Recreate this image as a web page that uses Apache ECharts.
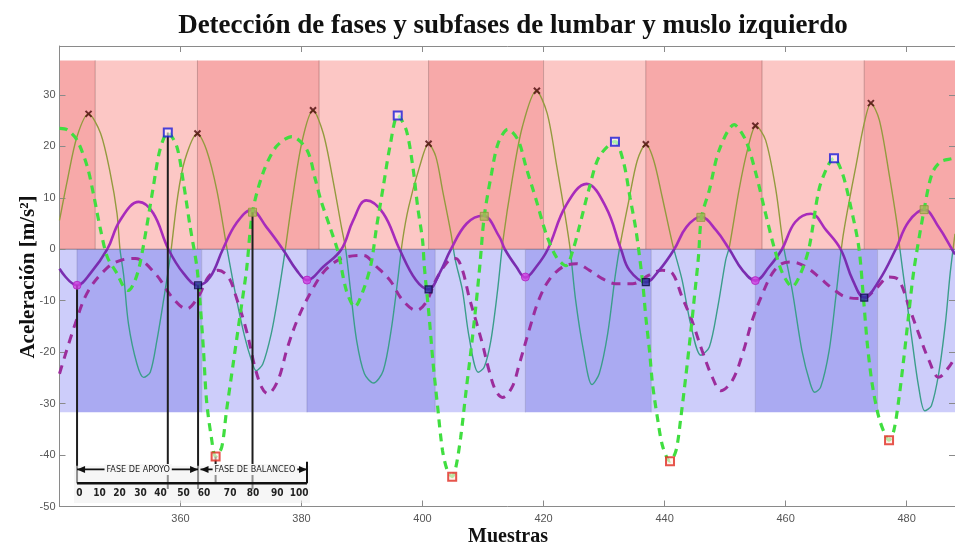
<!DOCTYPE html>
<html><head><meta charset="utf-8">
<script src="https://cdn.jsdelivr.net/npm/echarts/dist/echarts.min.js"></script>
<style>html,body{margin:0;padding:0;background:#fff}#c{width:955px;height:547px}</style>
</head><body><div id="c"></div>
<script>
// ---------- data ----------
const titleText = 'Detección de fases y subfases de lumbar y muslo izquierdo';
const xLabel = 'Muestras';
const yLabel = 'Aceleración [m/s²]';

// thin solid line (muslo)
const thinX = [340,341.3,342.9,344.8,346.8,348.4,349.5,350.0,350.6,351.4,352.8,353.9,355.0,356.1,357.2,358.3,359.5,360.7,362.8,364.3,366.0,367.7,369.3,370.6,371.7,372.5,373.6,375.0,376.1,377.2,378.4,380.1,381.9,383.6,385.2,386.6,387.3,388.1,389.1,390.4,391.9,393.5,394.8,395.9,396.7,397.7,399.5,401.0,402.2,403.3,404.7,405.4,406.6,407.7,409.2,410.2,411.3,412.4,413.3,414.8,416.5,418.8,420.6,422.2,423.6,424.4,425.3,426.6,428.0,429.2,430.6,431.9,432.8,434.1,435.5,436.9,438.2,439.6,441.3,442.9,444.3,446.0,447.4,448.8,450.1,450.7,452.3,453.7,455.1,456.7,458.4,459.6,461.1,462.7,464.1,464.8,465.8,467.2,468.3,469.4,470.3,471.6,473.0,474.1,475.5,477.1,478.5,478.9,479.8,480.9,482.0,483.0,484.1,485.3,486.4,487.2,488];
const thinY = [5.6,13.4,21.9,26.3,22.5,14.7,7,0,-5,-14.5,-22.3,-24.9,-23.9,-17.7,-9.9,-1.5,10,17.3,22.5,19.3,11.5,0,-10,-17,-21.5,-23.6,-22.3,-16.4,-9.3,-1,9,21,27.0,22.5,13.4,4.3,0,-8,-17.7,-24.2,-26.0,-23.6,-15.8,-6.0,1.75,8.2,16.0,20.5,18.0,11.5,3.1,-2,-8.0,-17.1,-23.9,-22.9,-17.7,-8.0,1.75,13.4,23.8,30.8,26.4,16.0,6.3,0,-9.9,-19.7,-26.3,-24.2,-16.4,-4.7,1.75,9.5,17.3,20.4,17.3,10.2,1.1,-6,-14.5,-20.6,-19.0,-11.2,-2.1,0.4,11.5,19.3,24.0,21.2,11.5,1.0,-8,-19.7,-26.2,-27.8,-26.8,-19.7,-9.3,1.75,8,16.0,24.5,28.4,25.1,14.7,4.3,0,-8,-17.7,-26.8,-31.4,-30.4,-24.2,-14.5,-4.7,3];

// dashed bright green line
const greenX = [340.0,341.3,342.9,344.6,345.7,346.8,347.9,349.5,350.6,351.4,352.5,353.3,354.4,355.5,356.6,357.9,359.4,360.5,361.6,362.7,363.2,363.8,364.3,365.1,365.8,366.8,367.6,368.7,369.8,370.9,371.9,373.6,375.8,378.4,380.9,382.3,383.2,384.7,386.1,387.4,388.8,390.2,391.5,392.4,393.5,394.6,395.9,397.3,398.4,399.2,400.0,400.3,401.1,401.7,402.5,403.3,404.1,404.9,405.5,406.3,407.2,408.0,408.8,409.5,410.2,411.4,412.5,414.1,415.8,417.1,418.8,420.4,422.1,423.7,424.9,425.9,427.6,429.2,431.8,433.2,434.3,435.3,436.4,436.9,437.5,438.0,438.8,439.7,440.9,441.9,442.7,443.5,444.3,445.0,445.6,446.1,447.4,449.0,451.5,453.4,455.1,456.7,458.1,459.5,461.1,462.5,463.9,465.5,466.9,468.0,469.4,470.8,472.1,472.9,473.5,474.3,475.4,476.5,477.1,477.9,478.7,479.5,480.3,481.2,482.9,484.2,485.6,487.5,488];
const greenY = [23.5,23.2,21.2,16.0,10.2,3.7,-1.5,-4.7,-7.3,-8.0,-6.0,-2.8,4.3,12.1,19.3,22.7,19.9,12.8,4.3,-3.4,-9.9,-19.7,-29.4,-36.6,-40.3,-38.5,-31.4,-22.3,-13.2,-4.1,7.2,14.7,19.9,21.9,19.3,13.5,9.5,4.3,-0.8,-8.0,-11.2,-8.0,-2.8,4.3,12.1,19.9,26.0,23.2,16.0,8.2,1.75,-3.4,-13.2,-21.6,-30.7,-39.1,-43.0,-44.2,-42.4,-36.6,-27.5,-19.7,-11.2,-2.8,6.4,14.7,20.6,23.3,21.2,16.0,9.5,3.1,-1.5,-3.2,0,4.3,12.1,18.0,20.9,17,10,3.5,-6.7,-13.2,-19.6,-26.1,-32.6,-38.4,-41.2,-39.1,-32.6,-24.8,-16.4,-8.5,-1.5,6.2,11.5,19.2,24.2,21.2,14.7,6.9,0.4,-4.7,-7.3,-4.7,0.4,11.5,16.0,17.7,14.7,8.1,0.4,-9.9,-18.3,-26.1,-32.6,-36.2,-37.1,-35.2,-29.3,-21.6,-13.2,-4.1,7.7,14.7,17.0,17.6,17.7];

// solid purple line (lumbar)
const purpleX = [340.0,342.9,345.1,347.9,350.0,353.1,355.5,358.0,360.5,362.9,364.9,367.0,369.2,371.7,374.2,376.9,379.2,380.9,383.6,386.6,388.5,390.7,393.5,396.2,398.9,401.0,402.8,404.7,407.3,410.0,412.7,413.6,415.5,417.0,418.8,420.7,423.7,427.1,430.3,432.8,434.2,436.9,439.1,441.6,443.6,446.0,448.5,450.7,452.9,455.0,457.3,459.4,461.6,464.2,466.7,469.1,471.1,473.0,475.5,478.2,480.3,482.9,485.3,487.5,488];
const purpleY = [-3.8,-7.0,-4.7,0,5.6,9.2,7.0,0,-4.7,-7.0,-5.4,0,5.0,7.6,4.3,0,-4.1,-6.0,-3.4,0,5.5,9.5,7.0,0,-6.0,-7.8,-4.7,0,5.0,6.5,2.4,0,-3.4,-5.5,-3.4,0,8.5,12.7,8.2,0,-4.1,-6.4,-4.1,0,4.3,6.3,3.7,0,-4.1,-6.1,-3.4,0,5.3,6.9,3.7,0,-6.0,-9.4,-6.0,0,5.3,7.7,4.3,0,-1];

// dashed purple line
const purpleDashX = [340.0,342.6,344.8,348.1,350.3,352.5,355.8,358.6,361.0,362.9,364.6,366.2,367.9,369.2,370.9,372.3,373.4,374.4,376.1,377.7,379.5,381.7,383.9,386.6,390.2,392.4,394.6,396.7,399.0,400.6,402.2,404.4,405.5,406.6,407.7,408.8,409.9,411.0,412.1,413.2,414.8,416.0,417.6,419.2,420.9,423.2,425.4,427.6,429.7,431.9,434.7,437.5,439.6,441.3,442.9,444.5,446.2,447.9,449.3,451.2,452.9,454.5,456.2,457.8,459.4,461.1,463.3,465.5,467.8,470.0,472.7,474.9,477.1,478.7,480.4,482.0,483.7,485.3,487.0,488];
const purpleDashY = [-24.2,-14.5,-8.0,-3.4,-2.1,-1.8,-4.7,-9.3,-11.6,-9.3,-5.4,-4.1,-5.4,-9.3,-15.8,-22.9,-26.8,-28.1,-25.5,-19.0,-13.2,-8.0,-4.1,-1.8,-1.2,-3.4,-6.0,-9.9,-11.9,-10.3,-6.0,-2.1,-1.8,-4.1,-9.3,-13.8,-18.4,-23.6,-27.5,-28.8,-26.8,-22.3,-15.8,-9.9,-6.0,-3.4,-2.8,-4.1,-5.7,-6.7,-6.7,-5.0,-4.1,-4.7,-9.3,-13.8,-19.7,-24.9,-27.5,-25.5,-20.3,-13.8,-8.6,-4.7,-2.8,-2.5,-3.4,-5.4,-7.7,-9.3,-9.6,-7.7,-5.4,-6.0,-11.2,-16.4,-21.6,-24.9,-22.9,-21];

// event markers
const peakX = [344.8,362.8,381.9,401.0,418.9,436.9,455.0,474.1];
const peakY = [26.3,22.5,27.0,20.5,30.8,20.4,24.0,28.4];
const blueSqX = [357.9,395.9,431.8,468.0];
const blueSqY = [22.7,26.0,20.9,17.7];
const redSqX = [365.8,404.9,440.9,477.1];
const redSqY = [-40.3,-44.2,-41.2,-37.1];
const oliveSqX = [371.9,410.2,446.0,482.9];
const oliveSqY = [7.2,6.4,6.2,7.7];
const heelX = [342.9,380.9,417.0,455.0];
const heelY = [-7.0,-6.0,-5.4,-6.1];
const navySqX = [362.9,401.0,436.9,473.0];
const navySqY = [-7.0,-7.8,-6.4,-9.4];

// background phase bands
const redEdges = [340,345.9,362.8,382.9,401.0,420.0,436.9,456.1,473.0,488];
const blueEdges = [340,342.9,363.5,380.9,402.1,417.0,437.8,455.0,475.2,488];
const redTop = 36.7, bandMid = 0, blueBottom = -31.7;

// black guide lines to the inset gait diagram
const guideX = [342.9,357.9,362.9,365.8,371.9];
const guideTop = [-7.0,22.7,-7.0,-40.3,7.2];
const guideBottom = [-45.5,-46.6,-46.6,-45.5,-46.6];

// inset gait diagram
const phaseLabels = ['FASE DE APOYO','FASE DE BALANCEO'];
const phaseSpans = [[342.9,362.9],[363.3,380.9]];
const phaseLabelX = [353.0,372.3];
const insetTickLabels = ['0','10','20','30','40','50','60','70','80','90','100'];
const insetTickX = [343.3,346.6,349.9,353.4,356.7,360.5,363.9,368.2,372.0,376.0,379.6];
const insetArrowY = -42.8, insetBaseY = -45.5, insetEndTop = -41.3, insetNumY = -47.5;

// ---------- chart ----------
const pairs = (xs, ys) => xs.map((x, i) => [x, ys[i]]);
const chart = echarts.init(document.getElementById('c'), null, {renderer: 'canvas'});

const bandData = [];
for (let i = 0; i < redEdges.length - 1; i++) bandData.push([redEdges[i], redEdges[i+1], bandMid, redTop, i % 2 === 0 ? 0 : 1]);
for (let i = 0; i < blueEdges.length - 1; i++) bandData.push([blueEdges[i], blueEdges[i+1], blueBottom, bandMid, i % 2 === 1 ? 2 : 3]);
const bandFill = ['#f7a9a9', '#fcc7c5', '#aaaaf2', '#cdcdfa'];
const bandEdge = ['rgba(140,85,85,0.45)', 'rgba(140,85,85,0.45)', 'rgba(90,90,150,0.3)', 'rgba(90,90,150,0.3)'];

const serif = '"Liberation Serif", "DejaVu Serif", serif';
const sans = '"Liberation Sans", Arial, sans-serif';
const narrow = '"Liberation Sans Narrow", "DejaVu Sans Condensed", "Liberation Sans", sans-serif';

function scatterSeries(xs, ys, symbol, size, itemStyle, z) {
  return {type: 'scatter', data: pairs(xs, ys), symbol, symbolSize: size, itemStyle, z, silent: true, animation: false};
}

const series = [
  { // 0 bands
    type: 'custom', z: 0, silent: true, animation: false,
    data: bandData, encode: {x: [0, 1], y: [2, 3]},
    renderItem: (params, api) => {
      const p0 = api.coord([api.value(0), api.value(3)]);
      const p1 = api.coord([api.value(1), api.value(2)]);
      const k = api.value(4);
      const children = [{type: 'rect', shape: {x: p0[0], y: p0[1], width: p1[0] - p0[0], height: p1[1] - p0[1]}, style: {fill: bandFill[k]}}];
      if (api.value(0) > 340) children.push({type: 'line', shape: {x1: p0[0], y1: p0[1], x2: p0[0], y2: p1[1]}, style: {stroke: bandEdge[k], lineWidth: 1}});
      if (k >= 2) children.push({type: 'line', shape: {x1: p0[0], y1: p0[1], x2: p1[0], y2: p0[1]}, style: {stroke: 'rgba(70,60,80,0.55)', lineWidth: 1}});
      return {type: 'group', children};
    }
  },
  { // 1 thin line (colour from visualMap)
    type: 'line', data: pairs(thinX, thinY), showSymbol: false, smooth: 0.3, z: 2, animation: false,
    lineStyle: {width: 1.4}
  },
  { // 2 purple dashed
    type: 'line', data: pairs(purpleDashX, purpleDashY), showSymbol: false, smooth: 0.35, z: 3, animation: false,
    lineStyle: {width: 3, color: '#9c2c9c', type: [9, 7]}
  },
  { // 3 purple solid (colour from visualMap)
    type: 'line', data: pairs(purpleX, purpleY), showSymbol: false, smooth: 0.4, z: 4, animation: false,
    lineStyle: {width: 2.6}
  },
  { // 4 green dashed
    type: 'line', data: pairs(greenX, greenY), showSymbol: false, smooth: 0.3, z: 5, animation: false,
    lineStyle: {width: 3.2, color: '#40de40', type: [8, 6]}
  },
  { // 5 guide lines
    type: 'custom', z: 6, silent: true, animation: false,
    data: guideX.map((x, i) => [x, guideTop[i], guideBottom[i]]), encode: {x: 0, y: [1, 2]},
    renderItem: (params, api) => {
      const a = api.coord([api.value(0), api.value(1)]);
      const b = api.coord([api.value(0), api.value(2)]);
      return {type: 'line', shape: {x1: a[0], y1: a[1], x2: b[0], y2: b[1]}, style: {stroke: '#1e1e1e', lineWidth: 2}};
    }
  },
  { // 6 inset diagram
    type: 'custom', z: 6, silent: true, animation: false,
    data: [[phaseSpans[0][0], insetBaseY]], encode: {x: 0, y: 1},
    renderItem: (params, api) => {
      const ch = [];
      const L = api.coord([phaseSpans[0][0], insetBaseY]);
      const R = api.coord([phaseSpans[1][1], insetBaseY]);
      const topPx = api.coord([phaseSpans[0][0], insetEndTop - 0.8])[1];
      const botPx = api.coord([phaseSpans[0][0], insetNumY - 1.8])[1];
      ch.push({type: 'rect', shape: {x: L[0] - 3, y: topPx, width: R[0] - L[0] + 6, height: botPx - topPx}, style: {fill: 'rgba(238,238,238,0.55)'}});
      ch.push({type: 'line', shape: {x1: L[0], y1: L[1], x2: R[0], y2: R[1]}, style: {stroke: '#111', lineWidth: 2.5}});
      const rt = api.coord([phaseSpans[1][1], insetEndTop]);
      ch.push({type: 'line', shape: {x1: R[0], y1: rt[1], x2: R[0], y2: R[1]}, style: {stroke: '#111', lineWidth: 2}});
      phaseSpans.forEach((sp, i) => {
        const a = api.coord([sp[0], insetArrowY]);
        const b = api.coord([sp[1], insetArrowY]);
        ch.push({type: 'line', shape: {x1: a[0], y1: a[1], x2: b[0], y2: b[1]}, style: {stroke: '#111', lineWidth: 1.8}});
        ch.push({type: 'polygon', shape: {points: [[a[0], a[1]], [a[0] + 8, a[1] - 3.5], [a[0] + 8, a[1] + 3.5]]}, style: {fill: '#111'}});
        ch.push({type: 'polygon', shape: {points: [[b[0], b[1]], [b[0] - 8, b[1] - 3.5], [b[0] - 8, b[1] + 3.5]]}, style: {fill: '#111'}});
        const c = api.coord([phaseLabelX[i], insetArrowY]);
        ch.push({type: 'text', x: c[0], y: c[1], style: {text: phaseLabels[i], fill: '#222', font: '9px ' + narrow, align: 'center', verticalAlign: 'middle', backgroundColor: '#f6f6f6', padding: [1, 2]}});
      });
      insetTickLabels.forEach((t, i) => {
        const p = api.coord([insetTickX[i], insetNumY]);
        ch.push({type: 'text', x: p[0], y: p[1], style: {text: t, fill: '#222', font: 'bold 10px ' + narrow, align: 'center', verticalAlign: 'middle'}});
      });
      return {type: 'group', children: ch};
    }
  },
  scatterSeries(heelX, heelY, 'circle', 8, {color: '#cf3fe0', borderColor: '#b020c0', borderWidth: 1}, 8),
  scatterSeries(navySqX, navySqY, 'rect', 7, {color: '#2e2e9e', borderColor: '#0c0c40', borderWidth: 1.2}, 8),
  scatterSeries(oliveSqX, oliveSqY, 'rect', 8, {color: '#a9b557', borderColor: '#8c9a3a', borderWidth: 1}, 8),
  scatterSeries(blueSqX, blueSqY, 'rect', 8, {color: 'rgba(255,255,255,0.7)', borderColor: '#1a1ad8', borderWidth: 2}, 8),
  scatterSeries(redSqX, redSqY, 'rect', 8, {color: 'rgba(255,235,225,0.8)', borderColor: '#e02a20', borderWidth: 2}, 8),
  scatterSeries(peakX, peakY, 'path://M0,0L10,10M10,0L0,10', 6, {color: 'rgba(0,0,0,0)', borderColor: '#4a0a0a', borderWidth: 2}, 8)
];

const axisCommon = {
  axisLine: {show: true, onZero: false, lineStyle: {color: '#8a8a8a', width: 1}},
  axisTick: {show: true, inside: true, length: 6, lineStyle: {color: '#8a8a8a'}},
  splitLine: {show: false}
};

chart.setOption({
  animation: false,
  backgroundColor: '#ffffff',
  title: {text: titleText, left: 508, textAlign: 'center', top: 8,
    textStyle: {fontFamily: serif, fontWeight: 'bold', fontSize: 27, color: '#111'}},
  grid: {left: 59.5, right: -1, top: 46, bottom: 40.5, containLabel: false},
  xAxis: [
    Object.assign({type: 'value', min: 340, max: 488, interval: 20, position: 'bottom',
      axisLabel: {color: '#555', fontSize: 11, fontFamily: sans, margin: 7, showMinLabel: false, showMaxLabel: false}}, axisCommon),
    Object.assign({type: 'value', min: 340, max: 488, interval: 20, position: 'top', axisLabel: {show: false}}, axisCommon)
  ],
  yAxis: [
    Object.assign({type: 'value', min: -50, max: 39.5, interval: 10, position: 'left',
      axisLabel: {color: '#555', fontSize: 11, fontFamily: sans, margin: 4, showMaxLabel: false}}, axisCommon),
    Object.assign({type: 'value', min: -50, max: 39.5, interval: 10, position: 'right', axisLabel: {show: false}}, axisCommon)
  ],
  visualMap: [
    {type: 'piecewise', show: false, seriesIndex: 1, dimension: 1,
      pieces: [{gt: 0, lte: 100, color: '#939a3e'}, {gte: -100, lte: 0, color: '#3b9d8b'}]},
    {type: 'piecewise', show: false, seriesIndex: 3, dimension: 1,
      pieces: [{gt: 0, lte: 100, color: '#a82bbb'}, {gte: -100, lte: 0, color: '#7a2db0'}]}
  ],
  graphic: [
    {type: 'text', x: 29, y: 277, rotation: Math.PI / 2, style: {text: yLabel, font: 'bold 21px ' + serif, fill: '#111', align: 'center', verticalAlign: 'middle'}},
    {type: 'text', x: 508, y: 537, style: {text: xLabel, font: 'bold 20px ' + serif, fill: '#111', align: 'center', verticalAlign: 'middle'}}
  ],
  series
});
</script>
</body></html>
